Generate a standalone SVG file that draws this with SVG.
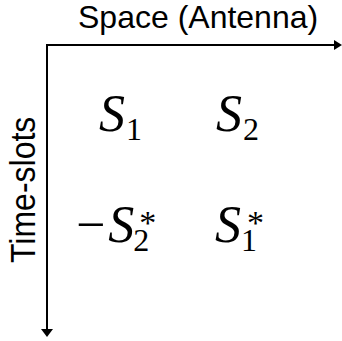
<svg xmlns="http://www.w3.org/2000/svg" width="342" height="341" viewBox="0 0 342 341">
<style>
.lbl{font-family:"Liberation Sans",Arial,sans-serif;font-size:32px;fill:#000}
.m{font-family:"Liberation Serif","Times New Roman",serif;font-size:52px;fill:#000}
.s{font-style:italic}
.d{font-size:32px;font-style:normal}
.ast{font-size:34px;font-style:normal}
.mn{font-style:normal}
.axis{stroke:#000;stroke-width:2;fill:none}
</style>
<rect width="342" height="341" fill="#fff"/>
<g id="connectors">
<path class="axis" d="M47,45 H335"/>
<polygon points="334,40 342,45 334,50" fill="#000"/>
<path class="axis" d="M47,44 V330"/>
<polygon points="41,329 47,337 53,329" fill="#000"/>
</g>
<g id="space-label"><text class="lbl" x="78" y="28">Space (Antenna)</text></g>
<g id="time-label"><text class="lbl" transform="translate(35,263) rotate(-90) scale(1,1.1)" font-size="30">Time-slots</text></g>
<g id="s11"><text class="m" x="99" y="131"><tspan class="s">S</tspan><tspan class="d" dx="1" dy="9">1</tspan></text></g>
<g id="s12"><text class="m" x="216" y="131"><tspan class="s">S</tspan><tspan class="d" dx="1" dy="9">2</tspan></text></g>
<g id="s21"><text class="m" x="76" y="242"><tspan class="mn">−</tspan><tspan class="s" dx="3">S</tspan><tspan class="d" dx="-1" dy="9">2</tspan><tspan class="ast" dx="-10" dy="-17">*</tspan></text></g>
<g id="s22"><text class="m" x="215" y="242"><tspan class="s">S</tspan><tspan class="d" dx="0" dy="9">1</tspan><tspan class="ast" dx="-10" dy="-17">*</tspan></text></g>
</svg>
